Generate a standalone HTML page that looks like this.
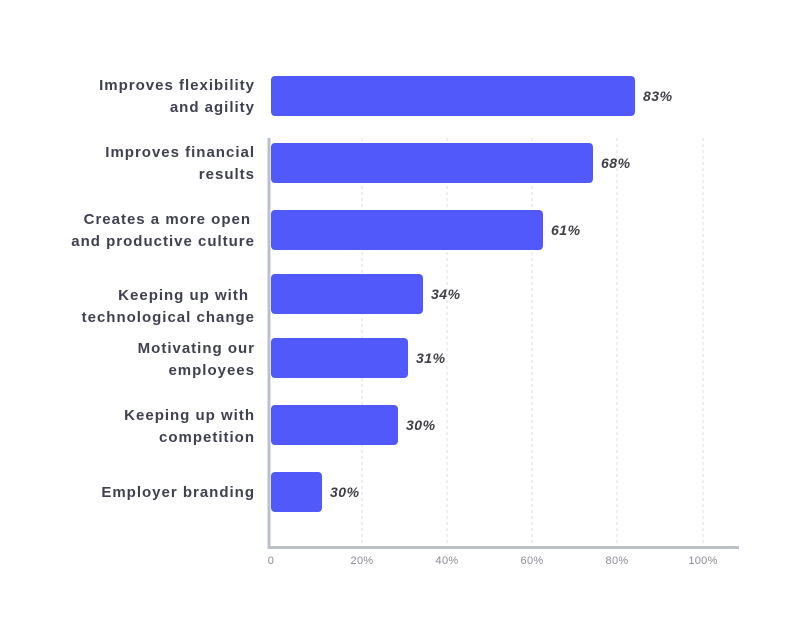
<!DOCTYPE html>
<html><head><style>body{margin:0;background:#fff}</style></head><body>
<svg width="800" height="638" xmlns="http://www.w3.org/2000/svg" font-family="Liberation Sans, sans-serif">
<rect width="800" height="638" fill="#fff"/>
<g stroke="#dcdee2" stroke-dasharray="3,3" stroke-width="1">
<line x1="362" y1="138" x2="362" y2="546"/><line x1="447" y1="138" x2="447" y2="546"/><line x1="532" y1="138" x2="532" y2="546"/><line x1="617" y1="138" x2="617" y2="546"/><line x1="703" y1="138" x2="703" y2="546"/>
</g>
<line x1="269" y1="138" x2="269" y2="549" stroke="#b8c2c8" stroke-width="3"/>
<line x1="268" y1="547.5" x2="739" y2="547.5" stroke="#b8c2c8" stroke-width="3"/>
<g fill="#5159fb">
<rect x="271" y="76" width="364" height="40" rx="4"/>
<rect x="271" y="143" width="322" height="40" rx="4"/>
<rect x="271" y="210" width="272" height="40" rx="4"/>
<rect x="271" y="274" width="152" height="40" rx="4"/>
<rect x="271" y="338" width="137" height="40" rx="4"/>
<rect x="271" y="405" width="127" height="40" rx="4"/>
<rect x="271" y="472" width="51" height="40" rx="4"/>
</g>
<g fill="#3e3e44" font-size="14" font-weight="bold" font-style="italic" letter-spacing="0.5">
<text x="643" y="101">83%</text><text x="601" y="168">68%</text><text x="551" y="235">61%</text>
<text x="431" y="299">34%</text><text x="416" y="363">31%</text><text x="406" y="430">30%</text><text x="330" y="497">30%</text>
</g>
<g fill="#3f4150" font-size="15" font-weight="bold" text-anchor="end" letter-spacing="1">
<text x="255" y="90">Improves flexibility</text><text x="255" y="112">and agility</text>
<text x="255" y="157">Improves financial</text><text x="255" y="179">results</text>
<text x="251" y="224">Creates a more open</text><text x="255" y="246">and productive culture</text>
<text x="249" y="300">Keeping up with</text><text x="255" y="322">technological change</text>
<text x="255" y="353">Motivating our</text><text x="255" y="375">employees</text>
<text x="255" y="420">Keeping up with</text><text x="255" y="442">competition</text>
<text x="255" y="497">Employer branding</text>
</g>
<g fill="#8a8d94" font-size="11" text-anchor="middle" letter-spacing="0.3">
<text x="271" y="564">0</text><text x="362" y="564">20%</text><text x="447" y="564">40%</text><text x="532" y="564">60%</text><text x="617" y="564">80%</text><text x="703" y="564">100%</text>
</g>
</svg>
</body></html>
